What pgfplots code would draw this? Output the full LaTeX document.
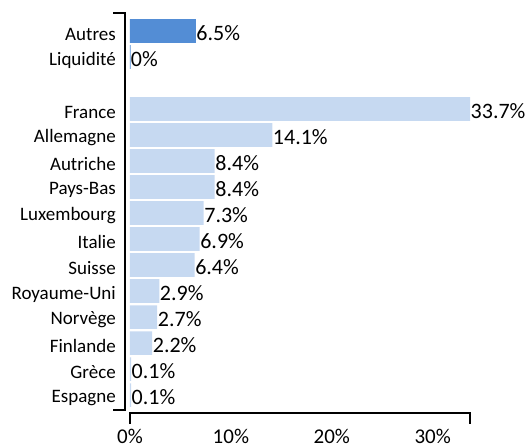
\documentclass[border=0pt]{standalone}
\usepackage{pgfplots}
\pgfplotsset{compat=1.18}
\usepackage{fontspec}
\setmainfont{Carlito}
\definecolor{darkb}{RGB}{83,141,213}
\definecolor{lightb}{RGB}{198,217,241}
\begin{document}
\begin{tikzpicture}
\begin{axis}[
  scale only axis, width=340bp, height=400.3bp,
  xmin=0, xmax=33.7, ymin=-0.704, ymax=14.69, y dir=reverse,
  xbar, bar width=23.6bp, bar shift=0pt,
  axis line style={draw=none}, major tick length=0pt,
  xtick={0,10,20,30}, xticklabels={0\%,10\%,20\%,30\%},
  xticklabel style={font=\fontsize{21bp}{23bp}\selectfont, anchor=north, inner sep=0pt, yshift=-15.5bp},
  ytick={0,1,3,4,5,6,7,8,9,10,11,12,13,14},
  yticklabels={Autres,Liquidité,France,Allemagne,Autriche,Pays-Bas,Luxembourg,Italie,Suisse,Royaume-Uni,Norvège,Finlande,Grèce,Espagne},
  yticklabel style={font=\fontsize{19bp}{21bp}\selectfont, anchor=east, inner sep=0pt, xshift=-14bp, yshift=-3bp},
  point meta=explicit symbolic,
  nodes near coords,
  nodes near coords style={font=\fontsize{22bp}{24bp}\selectfont, anchor=west, inner sep=0pt, xshift=0.5bp, yshift=-2bp, black},
  clip=false,
]
\addplot[fill=darkb, draw=darkb, line width=0.8bp] coordinates {(6.5,0) [6.5\%] (0,1) [0\%]};
\addplot[fill=lightb, draw=none] coordinates {
 (33.7,3) [33.7\%] (14.1,4) [14.1\%] (8.4,5) [8.4\%] (8.4,6) [8.4\%]
 (7.3,7) [7.3\%] (6.9,8) [6.9\%] (6.4,9) [6.4\%] (2.9,10) [2.9\%]
 (2.7,11) [2.7\%] (2.2,12) [2.2\%] (0.1,13) [0.1\%] (0.1,14) [0.1\%]};
\end{axis}
\draw[line width=1.8bp] (-16.7bp,400bp) -- (-5bp,400bp) -- (-5bp,2.7bp) -- (-16.7bp,2.7bp);
\draw[line width=1.8bp] (0,-11bp) -- (0,0) -- (340bp,0) -- (340bp,-11bp);
\path[use as bounding box] (-130bp,-35bp) rectangle (399bp,413bp);
\end{tikzpicture}
\end{document}
